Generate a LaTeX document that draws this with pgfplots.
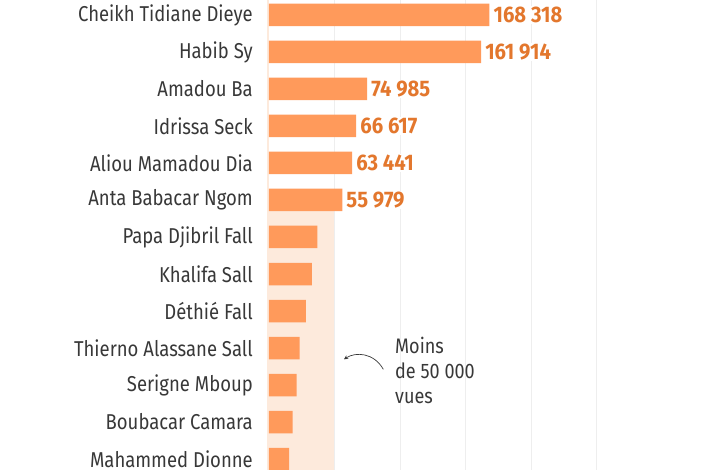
\documentclass[border=0pt]{standalone}
\usepackage{fontspec}
\setmainfont[FakeStretch=0.86]{Fira Sans}
\newfontfamily\valfont[FakeStretch=0.9]{Fira Sans}
\usepackage{pgfplots}
\pgfplotsset{compat=1.18}
\usetikzlibrary{arrows.meta}
\definecolor{barc}{HTML}{FF9A5B}
\definecolor{valc}{HTML}{E3772D}
\definecolor{shadec}{HTML}{FDEADC}
\definecolor{txtc}{HTML}{383838}
\definecolor{gridc}{HTML}{EEEEEE}
\begin{document}
\begin{tikzpicture}
\begin{axis}[
  name=ax,
  scale only axis,
  width=453pt, height=470pt,
  xmin=-1500, xmax=344300,
  ymin=-0.405, ymax=12.297,
  y dir=reverse,
  xbar, bar width=22.5pt, bar shift=0pt,
  axis line style={draw=none},
  tick style={draw=none},
  major tick length=0pt,
  xtick={50000,100000,150000,200000,250000},
  xticklabel=\empty,
  xmajorgrids,
  grid style={color=gridc, line width=0.8pt},
  ytick={0,...,12},
  yticklabels={Cheikh Tidiane Dieye, Habib Sy, Amadou Ba, Idrissa Seck, Aliou Mamadou Dia, Anta Babacar Ngom, Papa Djibril Fall, Khalifa Sall, Déthié Fall, Thierno Alassane Sall, Serigne Mboup, Boubacar Camara, Mahammed Dionne},
  yticklabel style={font=\fontsize{21.5}{24}\selectfont, text=txtc, inner sep=0pt, xshift=-14pt},
  clip=true,
]
\fill[shadec] (axis cs:-1500,5.31) rectangle (axis cs:50000,13);
\fill[shadec] (axis cs:-1500,-1) rectangle (axis cs:-200,5.31);
\addplot[fill=barc, draw=none,
  point meta=explicit symbolic,
  nodes near coords,
  nodes near coords style={anchor=west, inner sep=1pt, xshift=3pt, fill=white, text=valc, font=\valfont\bfseries\fontsize{22.5}{24}\selectfont},
] coordinates {
  (168318,0) [168 318]
  (161914,1) [161 914]
  (74985,2) [74 985]
  (66617,3) [66 617]
  (63441,4) [63 441]
  (55979,5) [55 979]
};
\addplot[fill=barc, draw=none] coordinates {
  (36900,6)
  (32800,7)
  (28200,8)
  (23400,9)
  (21100,10)
  (18100,11)
  (15300,12)
};
\draw[txtc, line width=0.7pt, -{Stealth[length=4pt,width=4pt]}] (axis cs:87300,9.576) .. controls (axis cs:80000,9.12) and (axis cs:66000,9.1) .. (axis cs:57300,9.305);
\node[anchor=west, align=left, text=txtc, inner sep=0pt, font=\fontsize{21}{25}\selectfont] at (axis cs:96200,9.61) {Moins\\de 50 000\\vues};
\end{axis}
\pgfresetboundingbox
\useasboundingbox ([xshift=-267pt]ax.south west) rectangle (ax.north east);
\end{tikzpicture}
\end{document}
